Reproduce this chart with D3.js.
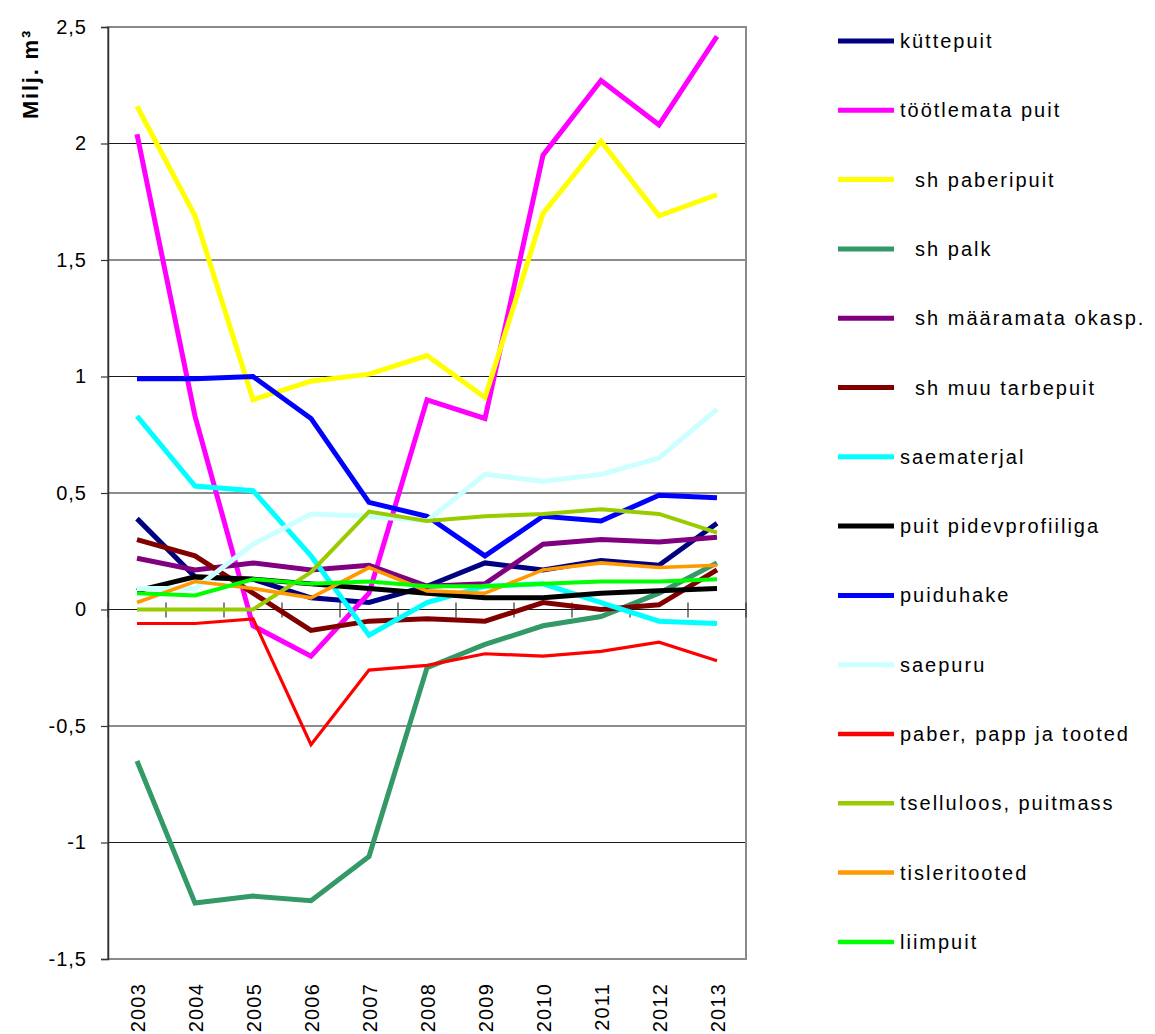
<!DOCTYPE html>
<html>
<head>
<meta charset="utf-8">
<script src="https://cdn.jsdelivr.net/npm/d3@7"></script>
<style>
  html, body { margin: 0; padding: 0; background: #fff; }
  svg { display: block; font-family: Arial, "Liberation Sans", sans-serif; }
</style>
</head>
<body>
<svg id="chart" width="1155" height="1034"></svg>
<script>
// Wood products balance, million m³, 2003–2013
const years = ["2003","2004","2005","2006","2007","2008","2009","2010","2011","2012","2013"];

const yTicks = [-1.5, -1, -0.5, 0, 0.5, 1, 1.5, 2, 2.5];

const seriesNames = [
  "küttepuit",
  "töötlemata puit",
  "  sh paberipuit",
  "  sh palk",
  "  sh määramata okasp.",
  "  sh muu tarbepuit",
  "saematerjal",
  "puit pidevprofiiliga",
  "puiduhake",
  "saepuru",
  "paber, papp ja tooted",
  "tselluloos, puitmass",
  "tisleritooted",
  "liimpuit"
];

const seriesColors = [
  "#000080", "#FF00FF", "#FFFF00", "#339966", "#800080", "#800000", "#00FFFF",
  "#000000", "#0000FF", "#CCFFFF", "#FF0000", "#99CC00", "#FF9900", "#00FF00"
];

const kyttepuit      = [0.39, 0.14, 0.13, 0.05, 0.03, 0.10, 0.20, 0.17, 0.21, 0.19, 0.37];
const tootlemataPuit = [2.04, 0.83, -0.07, -0.20, 0.07, 0.90, 0.82, 1.95, 2.27, 2.08, 2.46];
const paberipuit     = [2.16, 1.69, 0.90, 0.98, 1.01, 1.09, 0.91, 1.70, 2.01, 1.69, 1.78];
const palk           = [-0.65, -1.26, -1.23, -1.25, -1.06, -0.25, -0.15, -0.07, -0.03, 0.07, 0.20];
const maaramataOkasp = [0.22, 0.17, 0.20, 0.17, 0.19, 0.10, 0.11, 0.28, 0.30, 0.29, 0.31];
const muuTarbepuit   = [0.30, 0.23, 0.07, -0.09, -0.05, -0.04, -0.05, 0.03, 0.00, 0.02, 0.17];
const saematerjal    = [0.83, 0.53, 0.51, 0.23, -0.11, 0.03, 0.10, 0.11, 0.03, -0.05, -0.06];
const pidevprofiil   = [0.08, 0.14, 0.13, 0.11, 0.09, 0.07, 0.05, 0.05, 0.07, 0.08, 0.09];
const puiduhake      = [0.99, 0.99, 1.00, 0.82, 0.46, 0.40, 0.23, 0.40, 0.38, 0.49, 0.48];
const saepuru        = [0.09, 0.09, 0.28, 0.41, 0.40, 0.38, 0.58, 0.55, 0.58, 0.65, 0.86];
const paberPapp      = [-0.06, -0.06, -0.04, -0.58, -0.26, -0.24, -0.19, -0.20, -0.18, -0.14, -0.22];
const tselluloos     = [0.00, 0.00, 0.00, 0.16, 0.42, 0.38, 0.40, 0.41, 0.43, 0.41, 0.33];
const tisleritooted  = [0.03, 0.12, 0.09, 0.05, 0.18, 0.08, 0.07, 0.17, 0.20, 0.18, 0.19];
const liimpuit       = [0.07, 0.06, 0.13, 0.11, 0.12, 0.10, 0.10, 0.11, 0.12, 0.12, 0.13];

const seriesValues = [
  kyttepuit, tootlemataPuit, paberipuit, palk, maaramataOkasp, muuTarbepuit,
  saematerjal, pidevprofiil, puiduhake, saepuru, paberPapp, tselluloos,
  tisleritooted, liimpuit
];

// thinner strokes for the last group of product lines
const seriesWidths = [5, 5, 5, 5, 5, 5, 5, 5, 5, 5, 3.2, 4, 3.6, 4];

const svg = d3.select("#chart");

const plot = { left: 108, right: 746, top: 27, bottom: 959 };

const x = d3.scaleBand().domain(years).range([plot.left, plot.right]).padding(0);
const y = d3.scaleLinear().domain([-1.5, 2.5]).range([plot.bottom, plot.top]);
const cx = d => x(d) + x.bandwidth() / 2;

const fmt = v => String(v).replace(".", ",");

// horizontal gridlines
svg.append("g")
  .selectAll("line")
  .data(yTicks.filter(t => t > -1.5 && t < 2.5))
  .join("line")
  .attr("x1", plot.left).attr("x2", plot.right)
  .attr("y1", d => y(d)).attr("y2", d => y(d))
  .attr("stroke", "#1a1a1a").attr("stroke-width", 1.2);

// plot frame
svg.append("rect")
  .attr("x", plot.left).attr("y", plot.top)
  .attr("width", plot.right - plot.left).attr("height", plot.bottom - plot.top)
  .attr("fill", "none").attr("stroke", "#8a8a8a").attr("stroke-width", 2);

// value axis on the left
const yAxis = d3.axisLeft(y).tickValues(yTicks).tickSize(7).tickPadding(14).tickFormat(fmt);
const gy = svg.append("g").attr("transform", `translate(${plot.left},0)`).call(yAxis);
gy.select(".domain").attr("stroke", "#333").attr("stroke-width", 1.5);
gy.selectAll(".tick line").attr("stroke", "#333").attr("stroke-width", 1.2);
gy.selectAll(".tick text")
  .attr("fill", "#000")
  .style("font-size", "20px")
  .style("font-family", "Arial, 'Liberation Sans', sans-serif")
  .style("letter-spacing", "1px");

// category axis crossing at zero, tick marks between categories
const boundaries = years.map(d => x(d)).concat([plot.right]);
svg.append("g")
  .selectAll("line")
  .data(boundaries)
  .join("line")
  .attr("x1", d => d).attr("x2", d => d)
  .attr("y1", y(0) - 7).attr("y2", y(0) + 8)
  .attr("stroke", "#333").attr("stroke-width", 1.2);

// year labels, rotated, below the plot
svg.append("g")
  .selectAll("text")
  .data(years)
  .join("text")
  .attr("transform", d => `translate(${cx(d) + 1},983) rotate(-90)`)
  .attr("text-anchor", "end")
  .attr("dominant-baseline", "central")
  .style("font-size", "20px")
  .style("letter-spacing", "1.2px")
  .text(d => d);

// y-axis title
svg.append("text")
  .attr("transform", "translate(30,74) rotate(-90)")
  .attr("text-anchor", "middle")
  .attr("dominant-baseline", "central")
  .style("font-size", "22px")
  .style("font-weight", "bold")
  .style("letter-spacing", "1.8px")
  .text("Milj. m³");

// series lines
const line = d3.line()
  .x((v, i) => cx(years[i]))
  .y(v => y(v));

svg.append("g")
  .selectAll("path")
  .data(seriesValues)
  .join("path")
  .attr("d", d => line(d))
  .attr("fill", "none")
  .attr("stroke", (d, i) => seriesColors[i])
  .attr("stroke-width", (d, i) => seriesWidths[i])
  .attr("stroke-linejoin", "miter")
  .attr("stroke-linecap", "butt");

// legend
const legendTop = 41, legendStep = 69.3;
const legend = svg.append("g")
  .selectAll("g")
  .data(seriesNames)
  .join("g")
  .attr("transform", (d, i) => `translate(838,${legendTop + i * legendStep})`);

legend.append("line")
  .attr("x1", 0).attr("x2", 56)
  .attr("y1", 0).attr("y2", 0)
  .attr("stroke", (d, i) => seriesColors[i])
  .attr("stroke-width", (d, i) => seriesWidths[i] >= 5 ? 5 : 4.5);

legend.append("text")
  .attr("x", 62)
  .attr("y", 0)
  .attr("dominant-baseline", "central")
  .style("font-size", "20px")
  .style("letter-spacing", "2px")
  .style("white-space", "pre")
  .text(d => d);
</script>
</body>
</html>
